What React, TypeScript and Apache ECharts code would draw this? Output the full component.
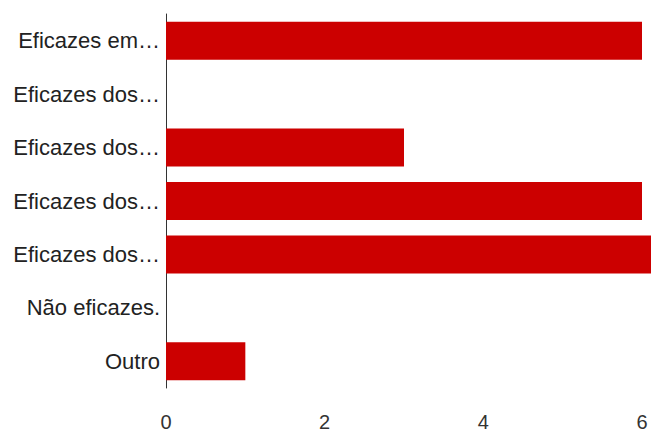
import React, { useEffect, useRef } from "react";
import * as echarts from "echarts";

const categories = [
  "Eficazes em…",
  "Eficazes dos…",
  "Eficazes dos…",
  "Eficazes dos…",
  "Eficazes dos…",
  "Não eficazes.",
  "Outro",
];
const values = [6, 0, 3, 6, 7, 0, 1];
const xTicks = { min: 0, max: 6, interval: 2 };

export default function App() {
  const ref = useRef<HTMLDivElement>(null);
  useEffect(() => {
    if (!ref.current) return;
    const chart = echarts.init(ref.current, null, { renderer: "svg" });
    chart.setOption({
      animation: false,
      backgroundColor: "#ffffff",
      textStyle: { fontFamily: "Liberation Sans, Arial, sans-serif" },
      grid: { left: 166, right: 9, top: 14, bottom: 44, containLabel: false },
      xAxis: {
        type: "value",
        min: xTicks.min,
        max: xTicks.max,
        interval: xTicks.interval,
        axisLine: { show: false },
        axisTick: { show: false },
        splitLine: { show: false },
        axisLabel: {
          color: "#333333",
          fontSize: 20,
          margin: 24,
          fontFamily: "Liberation Sans, Arial, sans-serif",
        },
      },
      yAxis: {
        type: "category",
        inverse: true,
        data: categories,
        axisLine: { show: true, lineStyle: { color: "#333333", width: 1 } },
        axisTick: { show: false },
        splitLine: { show: false },
        axisLabel: {
          color: "#222222",
          fontSize: 22,
          margin: 6,
          fontFamily: "Liberation Sans, Arial, sans-serif",
        },
      },
      series: [
        {
          type: "bar",
          data: values,
          clip: false,
          barWidth: 38,
          itemStyle: { color: "#cc0000" },
        },
      ],
    });
    return () => chart.dispose();
  }, []);
  return <div ref={ref} style={{ width: 651, height: 432, position: "absolute", left: 0, top: 0 }} />;
}
